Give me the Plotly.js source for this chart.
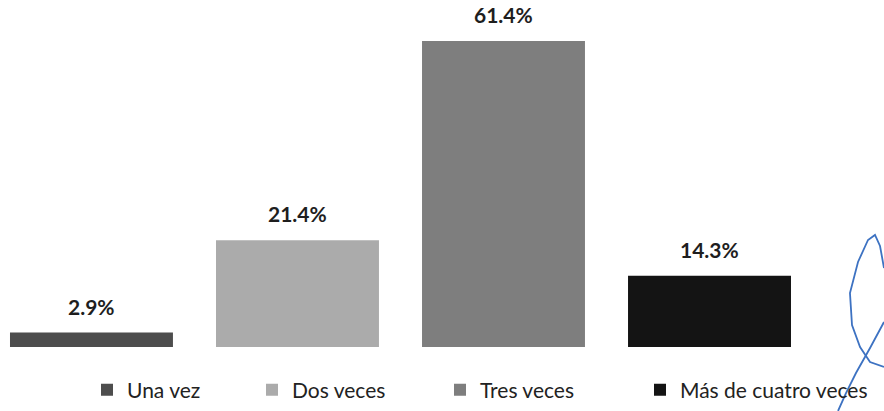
<!DOCTYPE html>
<html>
<head>
<meta charset="utf-8">
<script src="https://cdn.plot.ly/plotly-3.0.1.min.js"></script>
<style>html,body{margin:0;padding:0;background:#fff;}#chart{width:884px;height:411px;}</style>
</head>
<body>
<div id="chart"></div>
<script>
const categories = ['Una vez', 'Dos veces', 'Tres veces', 'Más de cuatro veces'];
const values = [2.9, 21.4, 61.4, 14.3];
const labels = ['2.9%', '21.4%', '61.4%', '14.3%'];
const colors = ['#4d4d4d', '#ababab', '#7e7e7e', '#141414'];

const W = 884, H = 411, BASE = 347;
const legendNames = ['legend', 'legend2', 'legend3', 'legend4'];
const legendLeftPx = [87, 252, 440, 640];

const traces = categories.map((c, i) => ({
  type: 'bar',
  x: [c],
  y: [values[i]],
  name: c,
  legend: legendNames[i],
  marker: {color: colors[i], line: {width: 0}},
  hoverinfo: 'skip'
}));

const annotations = categories.map((c, i) => ({
  x: c, y: values[i], xref: 'x', yref: 'y',
  text: '<b>' + labels[i] + '</b>',
  showarrow: false, yanchor: 'bottom', yshift: 12,
  font: {family: 'Lato, "Open Sans", sans-serif', size: 21, color: '#1e1e1e'}
}));

const px2x = p => p / W;
const px2y = p => (BASE - p) / BASE;
function pathFrom(pts) {
  return 'M' + pts.map(p => px2x(p[0]).toFixed(4) + ',' + px2y(p[1]).toFixed(4)).join(' L');
}
const sig1 = [[884,268],[880,246],[875,235],[868,240],[858,262],[850,293],[852,325],[860,347],[870,362],[884,367]];
const sig2 = [[884,322],[870,348],[856,373],[846,393],[838,411]];

const layout = {
  width: W, height: H,
  margin: {l: 0, r: 0, t: 0, b: H - BASE, pad: 0},
  paper_bgcolor: '#ffffff', plot_bgcolor: '#ffffff',
  barmode: 'overlay',
  bargap: 0.209,
  showlegend: true,
  xaxis: {type: 'category', categoryorder: 'array', categoryarray: categories,
          range: [-0.444, 3.847], visible: false, fixedrange: true},
  yaxis: {range: [0, 69.63], visible: false, fixedrange: true},
  annotations: annotations,
  shapes: [
    {type: 'path', xref: 'paper', yref: 'paper', path: pathFrom(sig1), line: {color: '#3d72c2', width: 1.8}},
    {type: 'path', xref: 'paper', yref: 'paper', path: pathFrom(sig2), line: {color: '#3d72c2', width: 1.8}}
  ]
};
legendNames.forEach((ln, i) => {
  layout[ln] = {
    x: px2x(legendLeftPx[i]), xref: 'paper', xanchor: 'left',
    y: px2y(390), yref: 'paper', yanchor: 'middle',
    orientation: 'h', bgcolor: 'rgba(0,0,0,0)', borderwidth: 0,
    font: {family: 'Lato, "Open Sans", sans-serif', size: 21, color: '#222'},
    itemclick: false, itemdoubleclick: false
  };
});

Plotly.newPlot('chart', traces, layout, {displayModeBar: false, staticPlot: true});
</script>
</body>
</html>
